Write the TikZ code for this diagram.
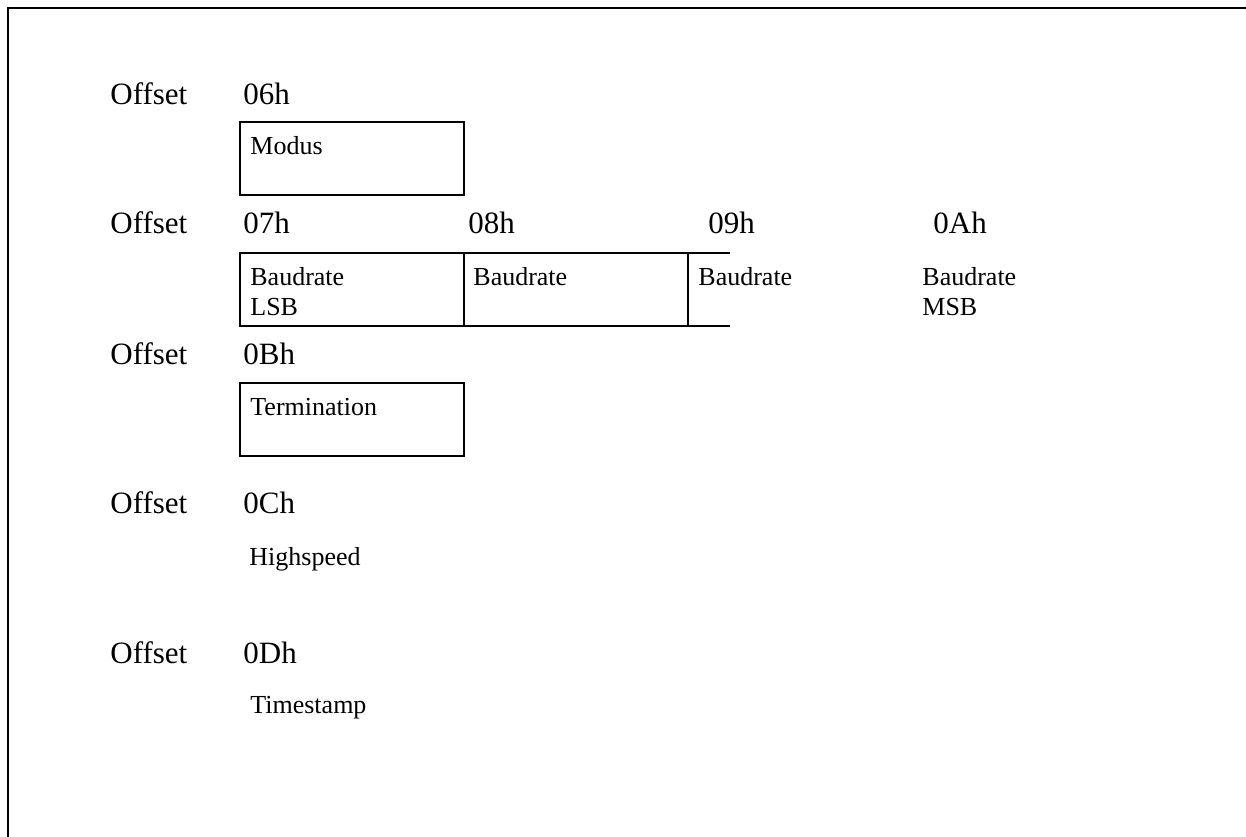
\documentclass[tikz,border=0pt]{standalone}
\usepackage{fontspec}
\setmainfont{Liberation Serif}
\usetikzlibrary{positioning}

\begin{document}
\begin{tikzpicture}[x=0.5pt, y=-0.5pt,
  hdr/.style={anchor=base west, inner sep=0pt, font=\fontsize{15.5}{18}\selectfont},
  lbl/.style={anchor=base west, inner sep=0pt, align=left, font=\fontsize{13}{15}\selectfont},
  regbox/.style={draw, line width=0.65pt, anchor=north west, inner sep=0pt, outer sep=0pt, minimum width=112pt, minimum height=36.5pt},
  frame/.style={line width=1pt}
]
\useasboundingbox (0,0) rectangle (1246,836);
\coordinate (ftop) at (1250,8);
\coordinate (fbot) at (8,840);
\draw[frame] (fbot) -- (8,8) -- (ftop);

% offset column
\node[hdr] (off06) at (110,104) {Offset};
\node[hdr] (off07) at (110,233) {Offset};
\node[hdr] (off0B) at (110,364) {Offset};
\node[hdr] (off0C) at (110,513) {Offset};
\node[hdr] (off0D) at (110,663) {Offset};

\node[hdr] (h06) at (243,104) {06h};
\node[hdr] (h07) at (243,233) {07h};
\node[hdr] (h08) at (468,233) {08h};
\node[hdr] (h09) at (708,233) {09h};
\node[hdr] (h0A) at (933,233) {0Ah};
\node[hdr] (h0B) at (243,364) {0Bh};
\node[hdr] (h0C) at (243,513) {0Ch};
\node[hdr] (h0D) at (243,663) {0Dh};

% register boxes
\node[regbox] (modus) at (240,122) {};
\node[regbox] (baud0) at (240,253) {};
\node[regbox] (baud1) at (464,253) {};
\node[regbox] (term) at (240,383) {};
\coordinate (b2top) at (730,253);
\coordinate (b2bot) at (730,326);
\draw[line width=0.65pt] (baud1.north east) -- (b2top);
\draw[line width=0.65pt] (baud1.south east) -- (b2bot);

% two-line labels sit on their last line
\node[lbl] (tmodus) at (250,154) {Modus};
\node[lbl] (tbaud0) at (250,315) {Baudrate\\LSB};
\node[lbl] (tbaud1) at (473,285) {Baudrate};
\node[lbl] (tbaud2) at (698,285) {Baudrate};
\node[lbl] (tbaud3) at (922,315) {Baudrate\\MSB};
\node[lbl] (tterm) at (250,415) {Termination};
\node[lbl] (thigh) at (249,565) {Highspeed};
\node[lbl] (ttime) at (250,713) {Timestamp};
\end{tikzpicture}
\end{document}
